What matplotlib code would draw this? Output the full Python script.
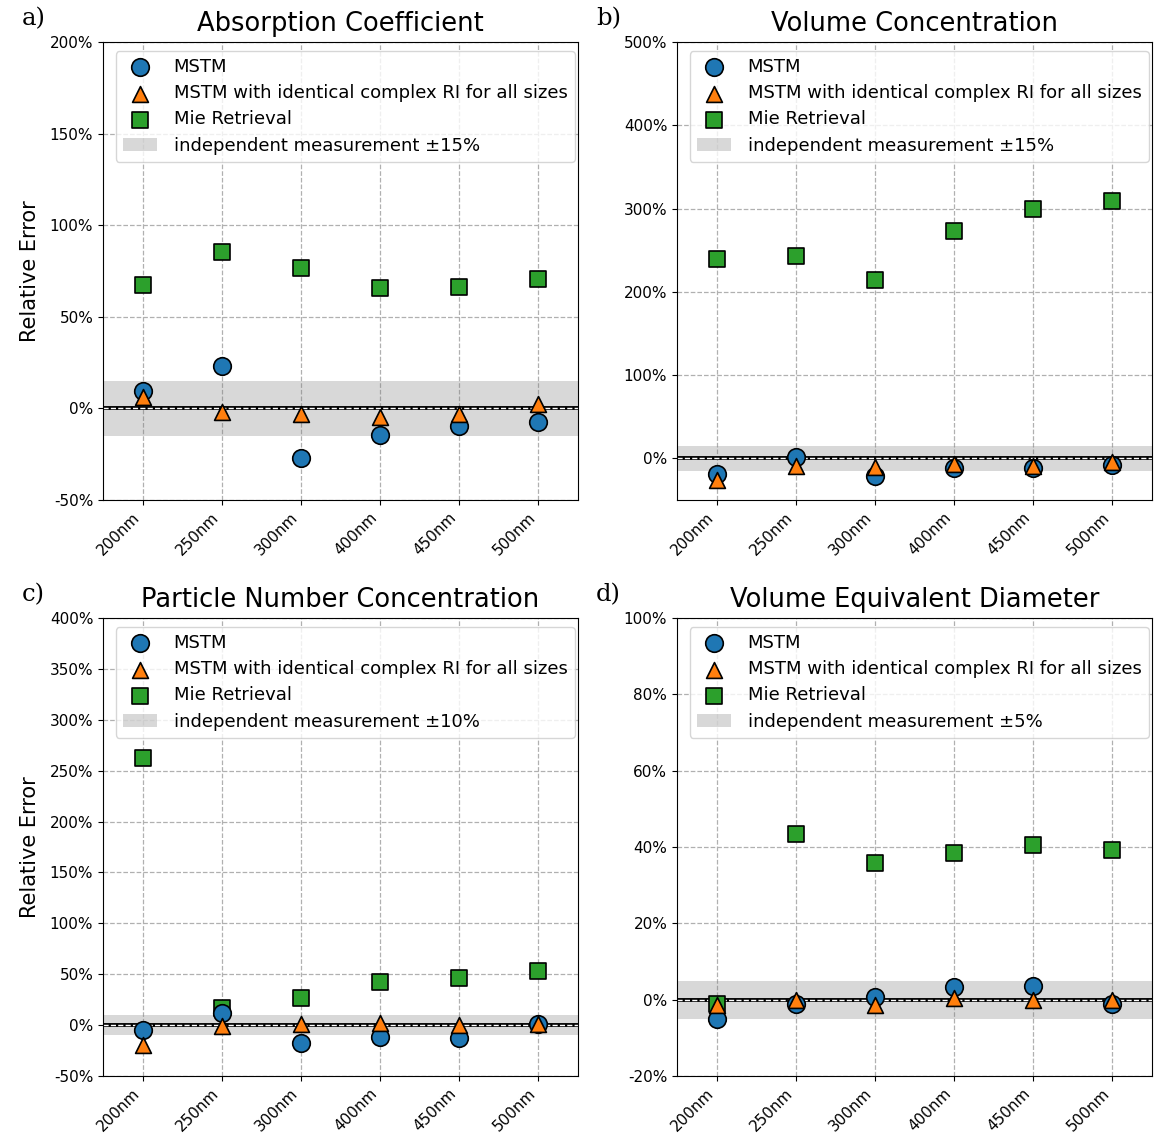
import matplotlib
matplotlib.use("Agg")
import matplotlib.pyplot as plt
from matplotlib.ticker import FuncFormatter, MultipleLocator

sizes = ["200nm", "250nm", "300nm", "400nm", "450nm", "500nm"]

# relative errors in percent
abs_mstm = [9.5, 23.1, -27.3, -14.3, -9.8, -7.2]
abs_same_ri = [6.0, -1.8, -3.0, -4.9, -3.0, 2.2]
abs_mie = [67.4, 85.4, 76.6, 65.7, 66.3, 70.6]

vol_mstm = [-18.4, 1.6, -21.0, -11.6, -11.6, -7.6]
vol_same_ri = [-25.6, -9.6, -10.4, -6.4, -9.6, -4.8]
vol_mie = [240, 243.6, 213.7, 272.5, 298.9, 308.5]

num_mstm = [-4.9, 12.0, -17.3, -11.4, -13.0, 0.7]
num_same_ri = [-19.6, -1.0, 0.7, 2.6, 0.0, 0.7]
num_mie = [262.7, 17.0, 26.5, 42.0, 46.0, 53.0]

dia_mstm = [-5.1, -1.0, 0.7, 3.2, 3.5, -1.0]
dia_same_ri = [-1.4, 0.0, -1.3, 0.5, -0.1, -0.1]
dia_mie = [-1.2, 43.3, 35.7, 38.3, 40.4, 39.3]

titles = ["Absorption Coefficient", "Volume Concentration",
          "Particle Number Concentration", "Volume Equivalent Diameter"]
letters = ["a)", "b)", "c)", "d)"]
bands = [15, 15, 10, 5]
ylims = [(-50, 200), (-50, 500), (-50, 400), (-20, 100)]
ysteps = [50, 100, 50, 20]

data = [(abs_mstm, abs_same_ri, abs_mie),
        (vol_mstm, vol_same_ri, vol_mie),
        (num_mstm, num_same_ri, num_mie),
        (dia_mstm, dia_same_ri, dia_mie)]

fig = plt.figure(figsize=(11.6, 11.37), dpi=100)
boxes = [(0.0888, 0.5602), (0.5836, 0.5602), (0.0888, 0.0536), (0.5836, 0.0536)]
w, h = 0.4095, 0.4029

x = range(len(sizes))
for i, (mstm, same_ri, mie) in enumerate(data):
    ax = fig.add_axes([boxes[i][0], boxes[i][1], w, h])
    ax.grid(True, ls="--", color="#b0b0b0", lw=0.9)
    ax.set_axisbelow(True)
    ax.axhspan(-bands[i], bands[i], color="gray", alpha=0.3, lw=0,
               label=f"independent measurement \u00b1{bands[i]}%")
    ax.axhline(0, color="k", lw=2.8, zorder=2)
    ax.axhline(0, color="w", ls="--", lw=1, zorder=2.1)
    ax.scatter(x, mie, marker="s", s=120, color="#2ca02c", edgecolor="k",
               lw=1.2, zorder=3, label="Mie Retrieval")
    ax.scatter(x, mstm, marker="o", s=160, color="#1f77b4", edgecolor="k",
               lw=1.2, zorder=4, label="MSTM")
    ax.scatter(x, same_ri, marker="^", s=130, color="#ff7f0e", edgecolor="k",
               lw=1.2, zorder=5, label="MSTM with identical complex RI for all sizes")

    ax.set_xlim(-0.5, 5.5)
    ax.set_ylim(*ylims[i])
    ax.yaxis.set_major_locator(MultipleLocator(ysteps[i]))
    ax.yaxis.set_major_formatter(FuncFormatter(lambda v, p: f"{int(round(v))}%"))
    ax.set_xticks(list(x))
    ax.set_xticklabels(sizes, rotation=45, ha="right")
    ax.tick_params(labelsize=11)
    ax.set_title(titles[i], fontsize=18.5, pad=8)
    if i % 2 == 0:
        ax.set_ylabel("Relative Error", fontsize=15, labelpad=7)

    hnd, lab = ax.get_legend_handles_labels()
    order = [2, 3, 1, 0]
    ax.legend([hnd[k] for k in order], [lab[k] for k in order], loc="upper left",
              bbox_to_anchor=(0.008, 1.0),
              fontsize=13, framealpha=0.8, borderaxespad=0.5,
              handletextpad=0.9, handlelength=1.9, labelspacing=0.45)

    fig.text(boxes[i][0] - 0.07, boxes[i][1] + h + 0.015, letters[i],
             family="DejaVu Serif", fontsize=17.5)

fig.savefig("out.png", dpi=100)
